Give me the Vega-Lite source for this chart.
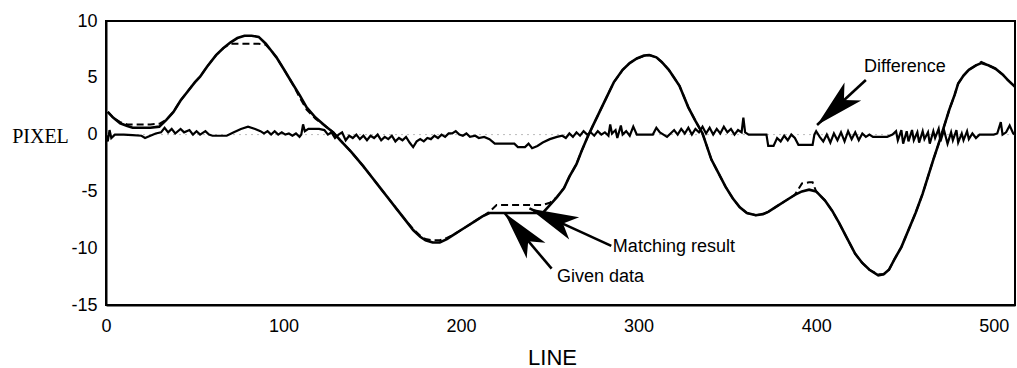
{
  "$schema": "https://vega.github.io/schema/vega-lite/v6.json",
  "width": 909,
  "height": 284,
  "autosize": {"type": "none"},
  "padding": {"left": 106, "top": 21, "right": 2, "bottom": 63},
  "background": "white",
  "config": {
    "view": {"stroke": "black", "strokeWidth": 2},
    "axis": {
      "domainColor": "black", "domainWidth": 2,
      "ticks": false,
      "labelFont": "Liberation Sans", "labelFontSize": 18, "labelColor": "black",
      "titleColor": "black", "titleFontWeight": "normal", "grid": false
    }
  },
  "datasets": {
    "given": [
      {"x":1,"y":2.0},{"x":4,"y":1.5},{"x":8,"y":1.0},{"x":12,"y":0.75},{"x":15,"y":0.6},{"x":20,"y":0.6},{"x":25,"y":0.6},{"x":30,"y":0.7},{"x":34,"y":1.3},{"x":38,"y":2.0},{"x":42,"y":3.0},{"x":46,"y":3.8},{"x":50,"y":4.6},{"x":53,"y":5.1},{"x":57,"y":6.0},{"x":62,"y":7.0},{"x":66,"y":7.6},{"x":70,"y":8.1},{"x":74,"y":8.5},{"x":78,"y":8.7},{"x":82,"y":8.7},{"x":86,"y":8.6},{"x":90,"y":8.0},{"x":93,"y":7.4},{"x":96,"y":6.8},{"x":100,"y":5.8},{"x":105,"y":4.5},{"x":109,"y":3.5},{"x":113,"y":2.4},{"x":118,"y":1.5},{"x":124,"y":0.7},{"x":128,"y":0.2},{"x":132,"y":-0.5},{"x":138,"y":-1.5},{"x":145,"y":-2.8},{"x":150,"y":-3.8},{"x":154,"y":-4.6},{"x":159,"y":-5.6},{"x":164,"y":-6.6},{"x":168,"y":-7.4},{"x":173,"y":-8.4},{"x":177,"y":-9.0},{"x":180,"y":-9.3},{"x":184,"y":-9.5},{"x":188,"y":-9.5},{"x":192,"y":-9.2},{"x":197,"y":-8.7},{"x":202,"y":-8.2},{"x":207,"y":-7.7},{"x":212,"y":-7.2},{"x":216,"y":-6.9},{"x":220,"y":-6.9},{"x":230,"y":-6.9},{"x":240,"y":-6.9},{"x":246,"y":-6.9},{"x":250,"y":-6.2},{"x":254,"y":-5.5},{"x":258,"y":-4.7},{"x":261,"y":-3.7},{"x":265,"y":-2.6},{"x":268,"y":-1.4},{"x":271,"y":-0.3},{"x":274,"y":0.7},{"x":278,"y":2.0},{"x":282,"y":3.3},{"x":286,"y":4.6},{"x":291,"y":5.7},{"x":295,"y":6.3},{"x":299,"y":6.7},{"x":303,"y":6.95},{"x":306,"y":7.0},{"x":310,"y":6.8},{"x":313,"y":6.4},{"x":317,"y":5.7},{"x":320,"y":5.0},{"x":323,"y":4.3},{"x":328,"y":2.4},{"x":332,"y":1.2},{"x":336,"y":0.1},{"x":341,"y":-2.2},{"x":345,"y":-3.4},{"x":349,"y":-4.6},{"x":353,"y":-5.6},{"x":357,"y":-6.4},{"x":361,"y":-6.9},{"x":366,"y":-7.1},{"x":370,"y":-7.0},{"x":373,"y":-6.8},{"x":378,"y":-6.3},{"x":383,"y":-5.8},{"x":388,"y":-5.3},{"x":392,"y":-5.0},{"x":396,"y":-4.85},{"x":400,"y":-5.0},{"x":405,"y":-5.8},{"x":409,"y":-6.7},{"x":413,"y":-7.8},{"x":417,"y":-9.0},{"x":422,"y":-10.5},{"x":426,"y":-11.3},{"x":430,"y":-11.9},{"x":435,"y":-12.4},{"x":438,"y":-12.3},{"x":441,"y":-11.9},{"x":444,"y":-11.0},{"x":448,"y":-9.9},{"x":452,"y":-8.4},{"x":456,"y":-6.9},{"x":460,"y":-5.2},{"x":463,"y":-3.7},{"x":466,"y":-2.2},{"x":469,"y":-0.8},{"x":472,"y":0.7},{"x":475,"y":2.2},{"x":478,"y":3.5},{"x":480,"y":4.5},{"x":483,"y":5.2},{"x":486,"y":5.7},{"x":490,"y":6.1},{"x":493,"y":6.3},{"x":497,"y":6.1},{"x":501,"y":5.8},{"x":505,"y":5.3},{"x":508,"y":4.8},{"x":512,"y":4.2}
    ],
    "matching": [
      {"x":1,"y":2.0},{"x":4,"y":1.5},{"x":8,"y":1.1},{"x":12,"y":0.9},{"x":15,"y":0.9},{"x":20,"y":0.9},{"x":25,"y":0.9},{"x":30,"y":0.95},{"x":34,"y":1.3},{"x":38,"y":2.0},{"x":42,"y":3.0},{"x":46,"y":3.8},{"x":50,"y":4.6},{"x":53,"y":5.1},{"x":57,"y":6.0},{"x":62,"y":7.0},{"x":66,"y":7.6},{"x":70,"y":8.0},{"x":74,"y":8.0},{"x":78,"y":8.0},{"x":82,"y":8.0},{"x":86,"y":8.0},{"x":90,"y":7.9},{"x":93,"y":7.4},{"x":96,"y":6.8},{"x":100,"y":5.8},{"x":105,"y":4.5},{"x":109,"y":3.3},{"x":113,"y":2.2},{"x":118,"y":1.4},{"x":124,"y":0.7},{"x":128,"y":0.2},{"x":132,"y":-0.5},{"x":138,"y":-1.5},{"x":145,"y":-2.8},{"x":150,"y":-3.8},{"x":154,"y":-4.6},{"x":159,"y":-5.6},{"x":164,"y":-6.6},{"x":168,"y":-7.4},{"x":173,"y":-8.3},{"x":177,"y":-8.9},{"x":180,"y":-9.2},{"x":184,"y":-9.3},{"x":188,"y":-9.3},{"x":192,"y":-9.1},{"x":197,"y":-8.7},{"x":202,"y":-8.2},{"x":207,"y":-7.7},{"x":212,"y":-7.2},{"x":216,"y":-6.8},{"x":220,"y":-6.2},{"x":230,"y":-6.2},{"x":240,"y":-6.2},{"x":246,"y":-6.2},{"x":250,"y":-6.0},{"x":254,"y":-5.5},{"x":258,"y":-4.7},{"x":261,"y":-3.7},{"x":265,"y":-2.6},{"x":268,"y":-1.4},{"x":271,"y":-0.3},{"x":274,"y":0.7},{"x":278,"y":2.0},{"x":282,"y":3.3},{"x":286,"y":4.6},{"x":291,"y":5.7},{"x":295,"y":6.3},{"x":299,"y":6.7},{"x":303,"y":6.9},{"x":306,"y":7.0},{"x":310,"y":6.8},{"x":313,"y":6.4},{"x":317,"y":5.7},{"x":320,"y":5.0},{"x":323,"y":4.3},{"x":328,"y":2.4},{"x":332,"y":1.2},{"x":336,"y":0.1},{"x":341,"y":-2.2},{"x":345,"y":-3.4},{"x":349,"y":-4.6},{"x":353,"y":-5.6},{"x":357,"y":-6.4},{"x":361,"y":-6.9},{"x":366,"y":-7.1},{"x":370,"y":-7.0},{"x":373,"y":-6.8},{"x":378,"y":-6.3},{"x":383,"y":-5.8},{"x":388,"y":-5.3},{"x":392,"y":-4.3},{"x":396,"y":-4.2},{"x":398,"y":-4.2},{"x":400,"y":-5.0},{"x":405,"y":-5.8},{"x":409,"y":-6.7},{"x":413,"y":-7.8},{"x":417,"y":-9.0},{"x":422,"y":-10.5},{"x":426,"y":-11.3},{"x":430,"y":-11.9},{"x":435,"y":-12.3},{"x":438,"y":-12.3},{"x":441,"y":-11.9},{"x":444,"y":-11.0},{"x":448,"y":-9.9},{"x":452,"y":-8.4},{"x":456,"y":-6.9},{"x":460,"y":-5.2},{"x":463,"y":-3.7},{"x":466,"y":-2.2},{"x":469,"y":-0.8},{"x":472,"y":0.7},{"x":475,"y":2.2},{"x":478,"y":3.5},{"x":480,"y":4.5},{"x":483,"y":5.2},{"x":486,"y":5.7},{"x":490,"y":6.1},{"x":493,"y":6.4},{"x":497,"y":6.1},{"x":501,"y":5.8},{"x":505,"y":5.3},{"x":508,"y":4.8},{"x":512,"y":4.2}
    ],
    "diff": [
      {"x":0,"y":0.0},{"x":1,"y":-0.6},{"x":2,"y":0.4},{"x":3,"y":-0.3},{"x":5,"y":0.0},{"x":10,"y":0.0},{"x":15,"y":-0.05},{"x":20,"y":-0.1},{"x":22,"y":-0.3},{"x":25,"y":-0.1},{"x":28,"y":0.1},{"x":31,"y":0.2},{"x":33,"y":0.6},{"x":35,"y":0.2},{"x":37,"y":0.5},{"x":39,"y":0.1},{"x":42,"y":0.5},{"x":44,"y":0.2},{"x":47,"y":0.4},{"x":49,"y":0.0},{"x":51,"y":0.3},{"x":53,"y":0.0},{"x":56,"y":0.3},{"x":58,"y":0.0},{"x":60,"y":-0.1},{"x":68,"y":-0.1},{"x":72,"y":0.2},{"x":76,"y":0.5},{"x":80,"y":0.7},{"x":84,"y":0.5},{"x":87,"y":0.3},{"x":89,"y":0.1},{"x":91,"y":0.3},{"x":93,"y":0.0},{"x":95,"y":0.3},{"x":97,"y":0.0},{"x":99,"y":0.2},{"x":101,"y":0.0},{"x":103,"y":0.1},{"x":105,"y":-0.1},{"x":107,"y":0.1},{"x":109,"y":-0.2},{"x":110,"y":0.0},{"x":111,"y":0.9},{"x":112,"y":0.3},{"x":114,"y":0.5},{"x":120,"y":0.5},{"x":123,"y":0.4},{"x":125,"y":0.0},{"x":127,"y":0.2},{"x":129,"y":-0.3},{"x":131,"y":0.0},{"x":133,"y":0.2},{"x":135,"y":-0.5},{"x":137,"y":-0.1},{"x":139,"y":-0.3},{"x":141,"y":0.0},{"x":143,"y":-0.4},{"x":145,"y":-0.1},{"x":147,"y":-0.5},{"x":149,"y":-0.1},{"x":151,"y":-0.3},{"x":153,"y":0.0},{"x":155,"y":-0.5},{"x":157,"y":-0.2},{"x":159,"y":-0.4},{"x":161,"y":-0.1},{"x":163,"y":-0.6},{"x":165,"y":-0.3},{"x":167,"y":-0.5},{"x":169,"y":-0.2},{"x":171,"y":-0.7},{"x":173,"y":-1.1},{"x":175,"y":-0.6},{"x":177,"y":-0.4},{"x":179,"y":-0.6},{"x":181,"y":-0.3},{"x":183,"y":-0.4},{"x":185,"y":-0.1},{"x":187,"y":-0.3},{"x":189,"y":0.0},{"x":191,"y":-0.2},{"x":193,"y":0.1},{"x":195,"y":0.1},{"x":197,"y":0.3},{"x":199,"y":0.0},{"x":201,"y":-0.1},{"x":203,"y":0.1},{"x":205,"y":-0.2},{"x":208,"y":-0.1},{"x":210,"y":-0.3},{"x":213,"y":-0.2},{"x":216,"y":-0.4},{"x":219,"y":-0.8},{"x":226,"y":-0.8},{"x":230,"y":-0.8},{"x":232,"y":-1.1},{"x":236,"y":-1.1},{"x":238,"y":-0.8},{"x":240,"y":-1.2},{"x":243,"y":-1.0},{"x":246,"y":-0.7},{"x":250,"y":-0.4},{"x":254,"y":-0.2},{"x":257,"y":-0.1},{"x":259,"y":-0.3},{"x":261,"y":0.1},{"x":263,"y":-0.2},{"x":265,"y":0.2},{"x":267,"y":-0.1},{"x":269,"y":0.3},{"x":271,"y":0.0},{"x":273,"y":0.2},{"x":275,"y":-0.1},{"x":277,"y":0.3},{"x":279,"y":0.0},{"x":281,"y":0.2},{"x":283,"y":-0.1},{"x":284,"y":0.9},{"x":285,"y":0.1},{"x":287,"y":0.4},{"x":288,"y":-0.3},{"x":290,"y":0.8},{"x":291,"y":0.0},{"x":293,"y":0.3},{"x":295,"y":-0.1},{"x":297,"y":0.7},{"x":299,"y":0.0},{"x":308,"y":0.0},{"x":310,"y":0.6},{"x":312,"y":0.2},{"x":314,"y":0.0},{"x":316,"y":-0.2},{"x":318,"y":0.1},{"x":320,"y":0.4},{"x":322,"y":0.0},{"x":324,"y":0.5},{"x":326,"y":0.1},{"x":328,"y":0.6},{"x":330,"y":0.0},{"x":332,"y":0.5},{"x":334,"y":0.2},{"x":336,"y":0.7},{"x":338,"y":0.1},{"x":340,"y":0.6},{"x":342,"y":0.0},{"x":344,"y":0.5},{"x":346,"y":0.1},{"x":348,"y":0.7},{"x":350,"y":0.2},{"x":352,"y":0.5},{"x":354,"y":0.0},{"x":356,"y":0.4},{"x":358,"y":0.2},{"x":359,"y":1.5},{"x":360,"y":0.2},{"x":362,"y":0.0},{"x":372,"y":0.0},{"x":373,"y":-1.0},{"x":376,"y":-1.0},{"x":378,"y":-0.3},{"x":380,"y":-0.6},{"x":382,"y":-0.1},{"x":384,"y":-0.5},{"x":386,"y":0.0},{"x":388,"y":-0.3},{"x":390,"y":-0.9},{"x":398,"y":-0.9},{"x":399,"y":0.0},{"x":400,"y":0.3},{"x":402,"y":-0.2},{"x":404,"y":-0.6},{"x":406,"y":0.0},{"x":408,"y":-0.7},{"x":410,"y":0.1},{"x":412,"y":-0.5},{"x":414,"y":0.2},{"x":416,"y":-0.6},{"x":418,"y":0.3},{"x":420,"y":-0.4},{"x":422,"y":0.2},{"x":424,"y":-0.5},{"x":426,"y":0.1},{"x":428,"y":-0.2},{"x":430,"y":0.0},{"x":432,"y":-0.2},{"x":440,"y":-0.2},{"x":443,"y":0.0},{"x":445,"y":0.3},{"x":446,"y":-0.5},{"x":448,"y":0.4},{"x":449,"y":-0.8},{"x":451,"y":0.3},{"x":452,"y":-0.6},{"x":454,"y":0.4},{"x":455,"y":-0.5},{"x":457,"y":0.2},{"x":458,"y":-0.7},{"x":460,"y":0.3},{"x":461,"y":-0.4},{"x":463,"y":0.2},{"x":464,"y":-0.8},{"x":466,"y":0.3},{"x":467,"y":-0.3},{"x":469,"y":0.5},{"x":470,"y":-0.6},{"x":472,"y":0.4},{"x":474,"y":-0.8},{"x":476,"y":0.2},{"x":477,"y":-0.5},{"x":479,"y":0.4},{"x":480,"y":-0.7},{"x":482,"y":0.1},{"x":483,"y":-0.5},{"x":485,"y":0.3},{"x":486,"y":-0.4},{"x":488,"y":0.1},{"x":490,"y":-0.3},{"x":492,"y":0.0},{"x":500,"y":0.0},{"x":502,"y":0.1},{"x":504,"y":1.1},{"x":505,"y":0.0},{"x":507,"y":0.2},{"x":509,"y":0.8},{"x":511,"y":0.1},{"x":512,"y":0.0}
    ],
    "notes": [
      {"label":"Difference","tx":450,"ty":5.95,"x1":428,"y1":4.8,"x2":400.5,"y2":0.85},
      {"label":"Matching result","tx":285.5,"ty":-9.9,"x1":284.6,"y1":-9.8,"x2":238.5,"y2":-6.5},
      {"label":"Given data","tx":254,"ty":-12.5,"x1":251,"y1":-11.8,"x2":224.5,"y2":-6.9}
    ]
  },
  "layer": [
    {
      "data": {"values": [{"y": 0}]},
      "mark": {"type": "rule", "color": "#bbbbbb", "strokeWidth": 1, "strokeDash": [2, 4]},
      "encoding": {"y": {"field": "y", "type": "quantitative"}}
    },
    {
      "data": {"name": "given"},
      "mark": {"type": "line", "color": "black", "strokeWidth": 2.6, "clip": true},
      "encoding": {
        "x": {"field": "x", "type": "quantitative", "scale": {"domain": [0, 512], "nice": false, "zero": false},
          "axis": {"values": [0, 100, 200, 300, 400, 500], "title": "LINE", "titleFont": "Liberation Sans", "titleFontSize": 22,
            "titleX": 446, "titleY": 52, "titleBaseline": "middle", "labelPadding": 12, "labelFlush": false}},
        "y": {"field": "y", "type": "quantitative", "scale": {"domain": [-15, 10], "nice": false, "zero": false},
          "axis": {"values": [-15, -10, -5, 0, 5, 10], "labelExpr": "toString(datum.value)", "title": "PIXEL", "titleFont": "Liberation Serif", "titleFontSize": 20,
            "titleAngle": 0, "titleAlign": "center", "titleBaseline": "middle", "titleX": -66, "titleY": 115, "labelPadding": 9, "labelFlush": false}}
      }
    },
    {
      "data": {"name": "matching"},
      "mark": {"type": "line", "color": "black", "strokeWidth": 2, "strokeDash": [7, 4], "clip": true},
      "encoding": {
        "x": {"field": "x", "type": "quantitative"},
        "y": {"field": "y", "type": "quantitative"}
      }
    },
    {
      "data": {"name": "diff"},
      "mark": {"type": "line", "color": "black", "strokeWidth": 2.2, "clip": true},
      "encoding": {
        "x": {"field": "x", "type": "quantitative"},
        "y": {"field": "y", "type": "quantitative"}
      }
    },
    {
      "data": {"name": "notes"},
      "mark": {"type": "rule", "color": "black", "strokeWidth": 2.6},
      "encoding": {
        "x": {"field": "x1", "type": "quantitative"},
        "y": {"field": "y1", "type": "quantitative"},
        "x2": {"field": "x2"},
        "y2": {"field": "y2"}
      }
    },
    {
      "data": {"name": "notes"},
      "transform": [{"filter": "datum.label == 'Difference'"}],
      "mark": {"type": "point", "shape": "M0,0 L0.5,2 L0,1.5 L-0.5,2 Z", "filled": true, "color": "black", "opacity": 1, "size": 2400, "angle": 227},
      "encoding": {
        "x": {"field": "x2", "type": "quantitative"},
        "y": {"field": "y2", "type": "quantitative"}
      }
    },
    {
      "data": {"name": "notes"},
      "transform": [{"filter": "datum.label == 'Matching result'"}],
      "mark": {"type": "point", "shape": "M0,0 L0.5,2 L0,1.5 L-0.5,2 Z", "filled": true, "color": "black", "opacity": 1, "size": 2400, "angle": 294},
      "encoding": {
        "x": {"field": "x2", "type": "quantitative"},
        "y": {"field": "y2", "type": "quantitative"}
      }
    },
    {
      "data": {"name": "notes"},
      "transform": [{"filter": "datum.label == 'Given data'"}],
      "mark": {"type": "point", "shape": "M0,0 L0.5,2 L0,1.5 L-0.5,2 Z", "filled": true, "color": "black", "opacity": 1, "size": 2400, "angle": 320},
      "encoding": {
        "x": {"field": "x2", "type": "quantitative"},
        "y": {"field": "y2", "type": "quantitative"}
      }
    },
    {
      "data": {"name": "notes"},
      "transform": [{"filter": "datum.label == 'Difference'"}],
      "mark": {"type": "text", "font": "Liberation Sans", "fontSize": 18, "color": "black", "align": "center", "baseline": "middle"},
      "encoding": {
        "x": {"field": "tx", "type": "quantitative"},
        "y": {"field": "ty", "type": "quantitative"},
        "text": {"field": "label"}
      }
    },
    {
      "data": {"name": "notes"},
      "transform": [{"filter": "datum.label != 'Difference'"}],
      "mark": {"type": "text", "font": "Liberation Sans", "fontSize": 18, "color": "black", "align": "left", "baseline": "middle"},
      "encoding": {
        "x": {"field": "tx", "type": "quantitative"},
        "y": {"field": "ty", "type": "quantitative"},
        "text": {"field": "label"}
      }
    }
  ]
}
